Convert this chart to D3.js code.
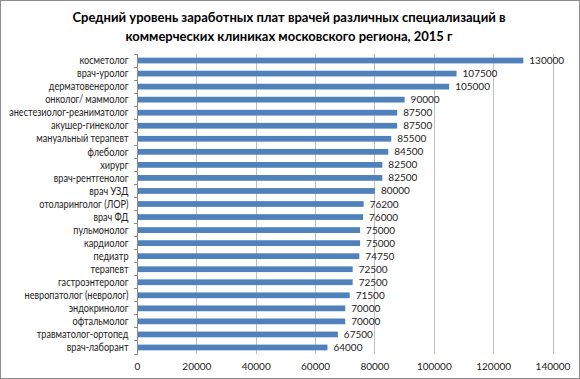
<!DOCTYPE html>
<html>
<head>
<meta charset="utf-8">
<script src="https://cdn.jsdelivr.net/npm/d3@7"></script>
<style>
  body { margin: 0; background: #fff; }
  svg { display: block; font-family: Lato, "Open Sans", sans-serif; }
</style>
</head>
<body>
<div id="chart"></div>
<script>
const FRAME_WIDTH = 580;
const FRAME_HEIGHT = 379;
const MARGINS = {left: 137.5, right: 27, top: 54, bottom: 25};

const specialties = ["косметолог", "врач-уролог", "дерматовенеролог", "онколог/ маммолог",
  "анестезиолог-реаниматолог", "акушер-гинеколог", "мануальный терапевт", "флеболог",
  "хирург", "врач-рентгенолог", "врач УЗД", "отоларинголог (ЛОР)", "врач ФД",
  "пульмонолог", "кардиолог", "педиатр", "терапевт", "гастроэнтеролог",
  "невропатолог (невролог)", "эндокринолог", "офтальмолог", "травматолог-ортопед",
  "врач-лаборант"];
const salaries = [130000, 107500, 105000, 90000, 87500, 87500, 85500, 84500, 82500, 82500,
  80000, 76200, 76000, 75000, 75000, 74750, 72500, 72500, 71500, 70000, 70000, 67500, 64000];
const xTicks = [0, 20000, 40000, 60000, 80000, 100000, 120000, 140000];
const titleLines = ["Средний уровень заработных плат врачей различных специализаций в",
  "коммерческих клиниках московского региона, 2015 г"];

const data = specialties.map((s, i) => ({name: s, value: salaries[i]}));

const svg = d3.select("#chart").append("svg")
  .attr("width", FRAME_WIDTH)
  .attr("height", FRAME_HEIGHT);

svg.append("rect")
  .attr("x", 0.5).attr("y", 0.5)
  .attr("width", FRAME_WIDTH - 1).attr("height", FRAME_HEIGHT - 1)
  .attr("fill", "#fff").attr("stroke", "#8c8c8c");

const x = d3.scaleLinear().domain([0, 140000])
  .range([MARGINS.left, FRAME_WIDTH - MARGINS.right]);
const y = d3.scaleBand().domain(specialties)
  .range([MARGINS.top, FRAME_HEIGHT - MARGINS.bottom])
  .paddingInner(0.56).paddingOuter(0.28);

// title
svg.append("g").selectAll("text")
  .data(titleLines)
  .enter().append("text")
    .attr("x", 289)
    .attr("y", (d, i) => 22 + i * 19)
    .attr("text-anchor", "middle")
    .attr("font-size", 13)
    .attr("font-weight", "bold")
    .attr("fill", "#000")
    .text(d => d);

// gridlines
svg.append("g").selectAll("line")
  .data(xTicks.slice(1))
  .enter().append("line")
    .attr("x1", d => x(d)).attr("x2", d => x(d))
    .attr("y1", MARGINS.top).attr("y2", FRAME_HEIGHT - MARGINS.bottom)
    .attr("stroke", "#c0c0c0").attr("stroke-width", 1)
    .attr("shape-rendering", "crispEdges");

// bars
svg.append("g").selectAll("rect")
  .data(data)
  .enter().append("rect")
    .attr("x", x(0))
    .attr("y", d => y(d.name))
    .attr("width", d => x(d.value) - x(0))
    .attr("height", y.bandwidth())
    .attr("fill", "#4f81bd");

// value labels
svg.append("g").selectAll("text")
  .data(data)
  .enter().append("text")
    .attr("x", d => x(d.value) + 6)
    .attr("y", d => y(d.name) + y.bandwidth() / 2)
    .attr("dy", "0.35em")
    .attr("font-size", 10)
    .attr("fill", "#222")
    .text(d => d.value);

// y axis
const yAxis = svg.append("g")
  .attr("transform", `translate(${MARGINS.left},0)`);
yAxis.append("line")
  .attr("x1", 0).attr("x2", 0)
  .attr("y1", MARGINS.top).attr("y2", FRAME_HEIGHT - MARGINS.bottom)
  .attr("stroke", "#8c8c8c").attr("shape-rendering", "crispEdges");
yAxis.selectAll(".tk")
  .data(d3.range(specialties.length + 1))
  .enter().append("line")
    .attr("x1", -4).attr("x2", 0)
    .attr("y1", i => MARGINS.top + i * y.step())
    .attr("y2", i => MARGINS.top + i * y.step())
    .attr("stroke", "#8c8c8c").attr("shape-rendering", "crispEdges");
// category labels: Calibri is narrow, so squeeze the text horizontally
yAxis.selectAll("text")
  .data(data)
  .enter().append("text")
    .attr("transform", d => `translate(-9,${y(d.name) + y.bandwidth() / 2}) scale(0.87,1)`)
    .attr("dy", "0.35em")
    .attr("text-anchor", "end")
    .attr("font-size", 10.5)
    .attr("fill", "#222")
    .text(d => d.name);

// x axis labels
svg.append("g").selectAll("text")
  .data(xTicks)
  .enter().append("text")
    .attr("x", d => x(d))
    .attr("y", FRAME_HEIGHT - 9)
    .attr("text-anchor", "middle")
    .attr("font-size", 10)
    .attr("fill", "#222")
    .text(d => d);
</script>
</body>
</html>
